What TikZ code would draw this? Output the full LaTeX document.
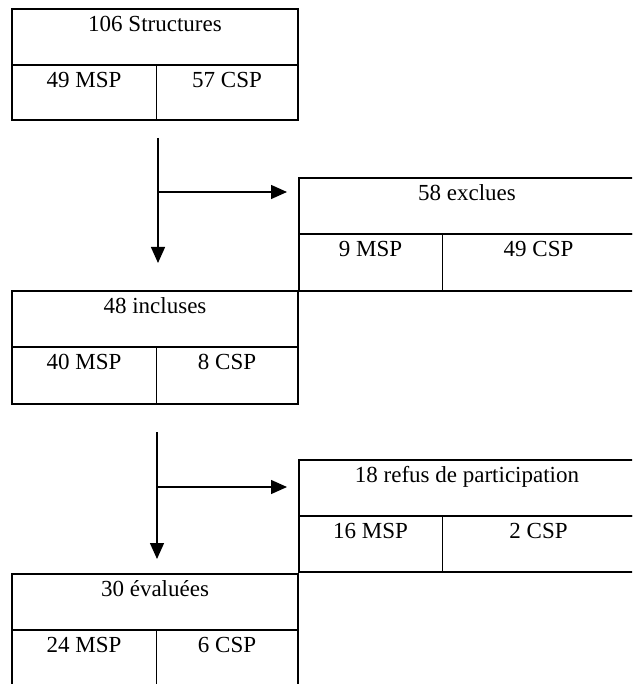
\documentclass[tikz,border=0pt]{standalone}
\usepackage{fontspec}
\setmainfont{Liberation Serif}
\usetikzlibrary{arrows.meta, positioning}
\tikzset{%
	cell/.style={
		inner sep=0pt,
		outer sep=0pt,
		text height=22.5pt,
		font=\fontsize{23}{27}\selectfont
	},
	head/.style={cell, draw, line width=1.6pt, text depth=33.5pt},
	part/.style={cell, text depth=34.5pt},
	frame/.style={draw, line width=1.6pt},
	divider/.style={draw, line width=0.8pt},
	flow/.style={line width=1.4pt, -{Triangle[length=16pt,width=14pt]}},
}
\begin{document}
\begin{tikzpicture}[x=1pt, y=1pt]
	\useasboundingbox[fill=white] (0,0) rectangle (632,-684);
	\clip (0,0) rectangle (632,-684);
	
	% left column
	\node[head, minimum width=286pt, anchor=north west] (structures) at (12,-9) {106 Structures};
	\node[part, text depth=32.5pt, minimum width=144pt, anchor=north west] (structuresmsp) at (structures.south west) {49 MSP};
	\node[part, text depth=32.5pt, minimum width=142pt, anchor=north west] (structurescsp) at (structuresmsp.north east) {57 CSP};
	\draw[frame] (structuresmsp.north west) rectangle (structurescsp.south east);
	\draw[divider] (structuresmsp.north east) -- (structuresmsp.south east);
	
	\node[head, minimum width=286pt, anchor=north west] (incluses) at (12,-291) {48 incluses};
	\node[part, minimum width=144pt, anchor=north west] (inclusesmsp) at (incluses.south west) {40 MSP};
	\node[part, minimum width=142pt, anchor=north west] (inclusescsp) at (inclusesmsp.north east) {8 CSP};
	\draw[frame] (inclusesmsp.north west) rectangle (inclusescsp.south east);
	\draw[divider] (inclusesmsp.north east) -- (inclusesmsp.south east);
	
	\node[head, minimum width=286pt, anchor=north west] (evaluees) at (12,-574) {30 évaluées};
	\node[part, minimum width=144pt, anchor=north west] (evalueesmsp) at (evaluees.south west) {24 MSP};
	\node[part, minimum width=142pt, anchor=north west] (evaluescsp) at (evalueesmsp.north east) {6 CSP};
	\draw[frame] (evalueesmsp.north west) rectangle (evaluescsp.south east);
	\draw[divider] (evalueesmsp.north east) -- (evalueesmsp.south east);
	
	% right column
	\node[head, minimum width=336pt, anchor=north west] (exclues) at (299,-178) {58 exclues};
	\node[part, minimum width=143pt, anchor=north west] (excluesmsp) at (exclues.south west) {9 MSP};
	\node[part, minimum width=193pt, anchor=north west] (excluescsp) at (excluesmsp.north east) {49 CSP};
	\draw[frame] (excluesmsp.north west) rectangle (excluescsp.south east);
	\draw[divider] (excluesmsp.north east) -- (excluesmsp.south east);
	
	\node[head, minimum width=336pt, anchor=north west] (refus) at (299,-460) {18 refus de participation};
	\node[part, text depth=33.5pt, minimum width=143pt, anchor=north west] (refusmsp) at (refus.south west) {16 MSP};
	\node[part, text depth=33.5pt, minimum width=193pt, anchor=north west] (refuscsp) at (refusmsp.north east) {2 CSP};
	\draw[frame] (refusmsp.north west) rectangle (refuscsp.south east);
	\draw[divider] (refusmsp.north east) -- (refusmsp.south east);
	
	% arrows
	\coordinate (fork1) at ([xshift=2pt, yshift=-18pt]structuresmsp.south east);
	\coordinate[below=54pt of fork1] (branch1);
	\draw[flow, shorten >=28pt] (fork1) -- (fork1 |- incluses.north);
	\draw[flow, shorten >=12pt] (branch1) -- (branch1 -| exclues.west);
	
	\coordinate (fork2) at ([xshift=1pt, yshift=-28pt]inclusesmsp.south east);
	\coordinate[below=55pt of fork2] (branch2);
	\draw[flow, shorten >=15pt] (fork2) -- (fork2 |- evaluees.north);
	\draw[flow, shorten >=12pt] (branch2) -- (branch2 -| refus.west);
\end{tikzpicture}
\end{document}
